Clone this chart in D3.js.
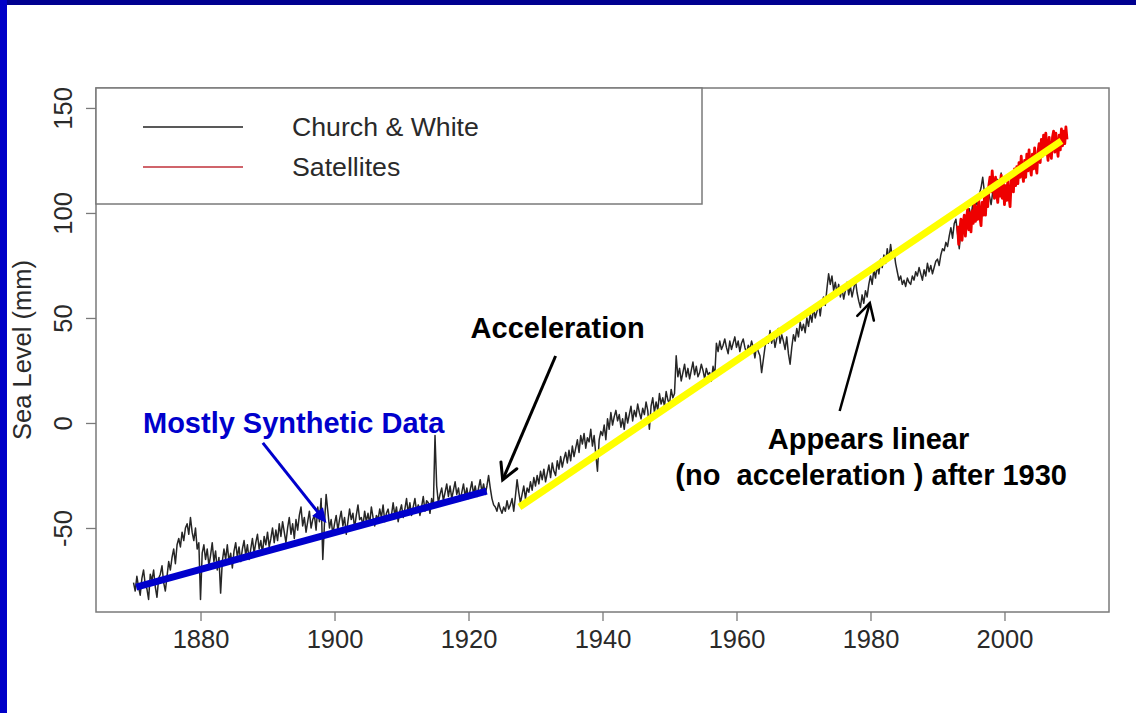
<!DOCTYPE html>
<html><head><meta charset="utf-8">
<script src="https://cdn.jsdelivr.net/npm/d3@7"></script>
<style>
html,body{margin:0;padding:0;background:#fff;}
svg{display:block;font-family:"Liberation Sans",Arial,Helvetica,sans-serif;}
</style></head>
<body>
<script>
// ---------- DATA ----------
const xTicks = [1880, 1900, 1920, 1940, 1960, 1980, 2000];
const yTicks = [-50, 0, 50, 100, 150];
const xDomain = [1864.4, 2015.6];
const yDomain = [-90, 159.5];

// Church & White, quarterly values from 1870.0
const cwStart = 1870, cwStep = 0.25;
const cwValues = [
-76,-80,-73,-78, -82,-74,-70,-77, -79,-84,-72,-75, -70,-78,-83,-74, -72,-68,-76,-80,
-73,-66,-70,-64, -60,-67,-58,-55, -59,-52,-56,-50, -48,-53,-45,-52, -56,-50,-60,-57,
-84,-62,-58,-65, -60,-68,-63,-57, -66,-61,-70,-64, -81,-66,-60,-65, -58,-66,-62,-69,
-61,-57,-64,-59, -66,-60,-56,-63, -58,-65,-60,-55, -62,-57,-53,-60, -56,-62,-54,-58,
-52,-59,-55,-50, -57,-51,-56,-48, -54,-47,-52,-57, -50,-45,-53,-48, -55,-46,-51,-44,
-40,-49,-45,-52, -47,-42,-50,-46, -44,-51,-40,-47, -36,-65,-48,-34, -42,-50,-46,-53,
-48,-44,-51,-46, -42,-49,-45,-53, -47,-41,-46,-43, -50,-44,-39,-46, -45,-49,-42,-47,
-43,-48,-40,-45, -49,-44,-46,-41, -45,-39,-47,-43, -41,-46,-44,-38, -44,-40,-47,-42,
-39,-45,-41,-36, -43,-38,-44,-40, -36,-42,-39,-44, -40,-35,-42,-37, -38,-43,-36,-40,
-6,-30,-38,-34, -31,-37,-33,-29, -35,-30,-36,-32, -28,-34,-31,-37, -33,-29,-35,-31,
-36,-32,-28,-34, -30,-35,-31,-27, -33,-29,-34,-30, -25,-31,-36,-39, -40,-42,-38,-41,
-43,-40,-42,-37, -41,-39,-36,-42, -35,-27,-33,-38, -34,-30,-36,-31, -33,-28,-32,-26,
-30,-25,-29,-23, -27,-22,-28,-24, -20,-26,-19,-23, -25,-18,-22,-16, -21,-17,-14,-19,
-13,-18,-11,-16, -12,-8,-14,-6, -10,-5,-12,-7, -9,-3,-11,-6, -15,-23,-8,-4,
-6,-1,-8,2, -3,5,-1,3, 6,1,4,-2, 2,-3,5,0, 4,8,1,6,
3,9,5,2, 7,4,10,6, -3,8,12,5, 10,6,14,9, 12,8,15,11,
9,16,12,14, 32,22,26,20, 24,28,22,26, 21,25,29,23, 27,22,24,28,
25,21,26,23, 24,20,27,22, 38,34,39,35, 37,40,36,33, 39,35,38,41,
36,39,34,38, 40,36,33,37, 35,39,36,31, 37,34,32,24, 30,36,41,38,
44,38,42,36, 40,45,38,42, 39,35,41,33, 28,36,42,39, 45,41,48,44,
47,43,50,46, 52,48,55,50, 53,57,51,58, 60,56,64,71, 66,70,63,67,
62,66,60,64, 59,63,67,61, 65,60,64,68, 62,58,55,61, 57,63,60,66,
70,66,73,69, 75,71,78,74, 80,76,83,78, 85,79,82,76, 72,68,70,66,
68,65,69,67, 66,70,68,72, 70,74,71,68, 73,70,76,72, 75,71,74,77,
78,75,80,83, 82,86,84,89, 93,88,95,97, 90,83,92,95, 97,93,99,102,
98,104,100,106, 103,109,112,117, 110,106,112,108, 104,110,107,113, 116,112,119,114,
108,112,106,110, 109
];

// Satellite altimetry, six values per year from 1993.0
const satStart = 1993, satStep = 1/6;
const satValues = [
94,85,92,97,87,95, 99,89,97,102,92,100, 91,101,95,105,96,103, 97,106,98,94,105,99,
107,99,110,103,113,117, 110,120,112,107,117,109, 105,115,108,118,107,114,
104,113,106,116,108,103, 115,119,110,121,113,122, 114,124,117,127,119,115,
125,117,128,120,130,122, 118,128,121,131,123,119, 129,133,124,135,127,137,
128,138,130,125,136,129, 126,136,139,129,138,131, 127,137,130,140,132,139,
133,141,135
];

const legendLabels = ["Church & White", "Satellites"];
const yLabel = "Sea Level (mm)";

// trend lines [year, mm]
const blueTrend = [[1870.4, -78.1], [1922.7, -32.4]];
const yellowTrend = [[1927.6, -40], [2008.5, 134.3]];

// annotation arrows: from [year,mm] to [year,mm]
const arrowSynthetic = [[1889.3, -9.5], [1898.8, -47.6]];
const arrowAccel = [[1933.0, 31.9], [1925.1, -27.1]];
const arrowLinear = [[1975.4, 5.7], [1979.9, 57.1]];

// annotation texts: [text, year, mm(baseline)]
const notes = [
  ["Mostly Synthetic Data", 1893.9, -4.8, "#0000cc"],
  ["Acceleration", 1933.3, 40.5, "#000"],
  ["Appears linear", 1979.7, -12.4, "#000"],
  ["(no  acceleration ) after 1930", 1980.1, -29.5, "#000"]
];

// ---------- DRAW ----------
const W = 1136, H = 713;
const svg = d3.select("body").append("svg").attr("width", W).attr("height", H);
svg.append("rect").attr("width", W).attr("height", H).attr("fill", "#fff");
// slide frame
svg.append("rect").attr("x", 0).attr("y", 0).attr("width", W).attr("height", 5).attr("fill", "#000090");
svg.append("rect").attr("x", 0).attr("y", 0).attr("width", 7).attr("height", H).attr("fill", "#0000c8");

const pL = 96, pT = 88, pR = 1109, pB = 612;
const x = d3.scaleLinear().domain(xDomain).range([pL, pR]);
const y = d3.scaleLinear().domain(yDomain).range([pB, pT]);

const gray = "#7a7a7a", txt = "#2a2a2a";
const fmt = d => String(d);

// axes
const xAxis = svg.append("g").attr("transform", `translate(0,${pB})`)
  .call(d3.axisBottom(x).tickValues(xTicks).tickFormat(fmt).tickSize(9).tickPadding(9));
xAxis.select(".domain").remove();
xAxis.selectAll("line").attr("stroke", gray).attr("stroke-width", 1.3);
xAxis.selectAll("text").attr("fill", txt).attr("font-size", 25.5).attr("font-family", "Liberation Sans, Arial, sans-serif");

const yAxis = svg.append("g").attr("transform", `translate(${pL},0)`)
  .call(d3.axisLeft(y).tickValues(yTicks).tickSize(10).tickFormat(fmt));
yAxis.select(".domain").remove();
yAxis.selectAll("line").attr("stroke", gray).attr("stroke-width", 1.3);
yAxis.selectAll("text").attr("fill", txt).attr("font-size", 25.5).attr("font-family", "Liberation Sans, Arial, sans-serif")
  .attr("x", null).attr("text-anchor", "middle")
  .attr("transform", `translate(-33,0) rotate(-90)`).attr("dy", "0.35em");

svg.append("text").attr("transform", `translate(22,${(pT + pB) / 2}) rotate(-90)`)
  .attr("text-anchor", "middle").attr("dy", "0.35em").attr("font-size", 25.5).attr("fill", txt).text(yLabel);

// frame
svg.append("rect").attr("x", pL).attr("y", pT).attr("width", pR - pL).attr("height", pB - pT)
  .attr("fill", "none").attr("stroke", gray).attr("stroke-width", 1.5);

// series
const cwData = cwValues.map((v, i) => [cwStart + i * cwStep, v]);
const satData = satValues.map((v, i) => [satStart + i * satStep, v]);
const line = d3.line().x(d => x(d[0])).y(d => y(d[1]));

svg.append("path").datum(cwData).attr("d", line).attr("fill", "none")
  .attr("stroke", "#262626").attr("stroke-width", 1.5).attr("stroke-linejoin", "round");
svg.append("path").datum(satData).attr("d", line).attr("fill", "none")
  .attr("stroke", "#ee0000").attr("stroke-width", 2.8).attr("stroke-linejoin", "round");

// legend
const lg = svg.append("g");
lg.append("rect").attr("x", pL).attr("y", pT).attr("width", 702 - pL).attr("height", 204 - pT)
  .attr("fill", "#fff").attr("stroke", gray).attr("stroke-width", 1.5);
const legColors = ["#222", "#c0303a"];
legendLabels.forEach((t, i) => {
  const ly = 127 + i * 40;
  lg.append("line").attr("x1", 143).attr("x2", 243).attr("y1", ly).attr("y2", ly)
    .attr("stroke", legColors[i]).attr("stroke-width", 1.5);
  lg.append("text").attr("x", 292).attr("y", ly).attr("dy", "0.35em").attr("font-size", 26.7)
    .attr("fill", txt).text(t);
});

// trend lines
[[blueTrend, "#0000cc"], [yellowTrend, "#ffff00"]].forEach(([d, c]) => {
  svg.append("path").datum(d).attr("d", line).attr("stroke", c).attr("stroke-width", 7).attr("fill", "none");
});

// arrows
function arrow(a, color, width, filled) {
  const x1 = x(a[0][0]), y1 = y(a[0][1]), x2 = x(a[1][0]), y2 = y(a[1][1]);
  const ang = Math.atan2(y2 - y1, x2 - x1);
  const L = filled ? 16 : 18, spread = filled ? 0.45 : 0.5;
  const p1 = [x2 - L * Math.cos(ang - spread), y2 - L * Math.sin(ang - spread)];
  const p2 = [x2 - L * Math.cos(ang + spread), y2 - L * Math.sin(ang + spread)];
  if (filled) {
    const bx = x2 - L * 0.8 * Math.cos(ang), by = y2 - L * 0.8 * Math.sin(ang);
    svg.append("line").attr("x1", x1).attr("y1", y1).attr("x2", bx).attr("y2", by)
      .attr("stroke", color).attr("stroke-width", width);
    svg.append("path").attr("d", `M${x2},${y2}L${p1[0]},${p1[1]}L${p2[0]},${p2[1]}Z`).attr("fill", color);
  } else {
    svg.append("line").attr("x1", x1).attr("y1", y1).attr("x2", x2).attr("y2", y2)
      .attr("stroke", color).attr("stroke-width", width);
    svg.append("path").attr("d", `M${p1[0]},${p1[1]}L${x2},${y2}L${p2[0]},${p2[1]}`)
      .attr("fill", "none").attr("stroke", color).attr("stroke-width", width).attr("stroke-linecap", "round");
  }
}
arrow(arrowSynthetic, "#0000cc", 3, true);
arrow(arrowAccel, "#000", 3, false);
arrow(arrowLinear, "#000", 2.5, false);

// annotation texts
notes.forEach(([t, yr, mm, c]) => {
  svg.append("text").attr("x", x(yr)).attr("y", y(mm)).attr("text-anchor", "middle")
    .attr("font-size", 29).attr("font-weight", "bold").attr("fill", c)
    .style("white-space", "pre").text(t);
});
</script>
</body></html>
